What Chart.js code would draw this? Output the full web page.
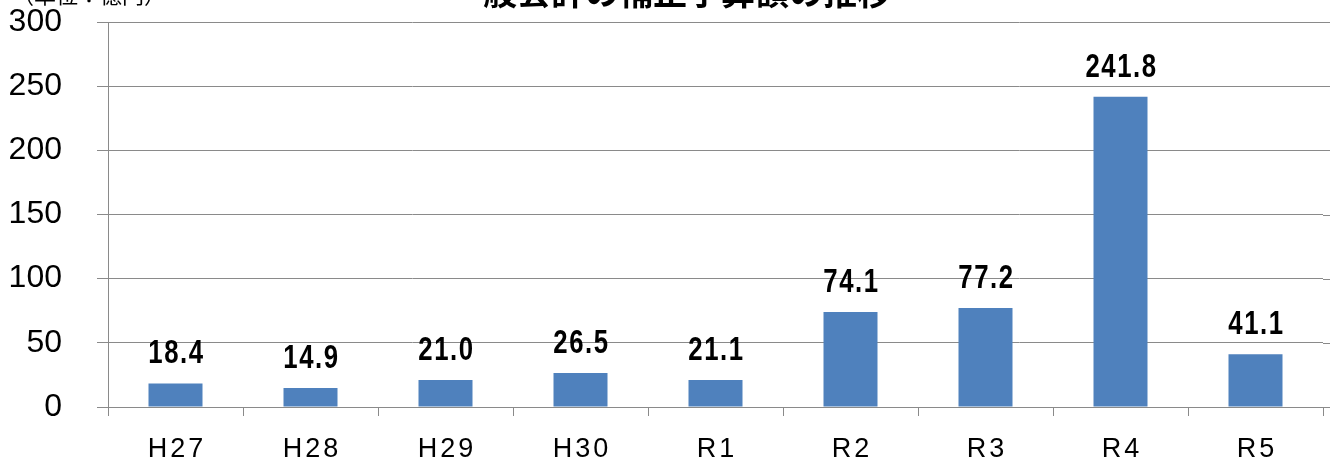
<!DOCTYPE html>
<html lang="ja">
<head>
<meta charset="utf-8">
<title>一般会計の補正予算額の推移</title>
<script src="https://cdn.jsdelivr.net/npm/chart.js@4.4.1/dist/chart.umd.min.js"></script>
<style>
  html, body { margin: 0; padding: 0; background: #ffffff; }
  #wrap { width: 1330px; height: 460px; position: relative; }
</style>
</head>
<body>
<div id="wrap"><canvas id="c" width="1330" height="460"></canvas></div>
<script>
// 年度ラベルと補正予算額（単位：億円）
const categories = ['H27', 'H28', 'H29', 'H30', 'R1', 'R2', 'R3', 'R4', 'R5'];
const amounts = [18.4, 14.9, 21.0, 26.5, 21.1, 74.1, 77.2, 241.8, 41.1];
const yTicks = [0, 50, 100, 150, 200, 250, 300];
const titleText = '一般会計の補正予算額の推移';
const unitText = '（単位：億円）';

const GRID = '#8a8a8a';

// 見出し・単位・年度ラベル・数値ラベルを描くプラグイン
const decorations = {
  id: 'decorations',
  beforeDraw(chart) {
    const ctx = chart.ctx;
    const area = chart.chartArea;
    const y = chart.scales.y;
    // 目盛線を右端まで延ばす
    ctx.save();
    ctx.strokeStyle = GRID;
    ctx.lineWidth = 1;
    yTicks.forEach(v => {
      const py = Math.round(y.getPixelForValue(v)) + 0.5;
      ctx.beginPath();
      ctx.moveTo(area.right, py);
      ctx.lineTo(chart.width, py);
      ctx.stroke();
    });
    ctx.restore();
  },
  afterDraw(chart) {
    const ctx = chart.ctx;
    const x = chart.scales.x;
    ctx.save();
    // 見出し
    ctx.fillStyle = '#000000';
    ctx.font = 'bold 34px "Noto Sans CJK JP", sans-serif';
    ctx.textAlign = 'center';
    ctx.textBaseline = 'ideographic';
    ctx.fillText(titleText, 670, 9);
    // 単位
    ctx.font = '22px "Noto Sans CJK JP", sans-serif';
    ctx.textAlign = 'left';
    ctx.fillText(unitText, 12, 6);
    // 年度ラベル
    ctx.font = '27px "Liberation Sans", Arial, sans-serif';
    ctx.textAlign = 'center';
    ctx.textBaseline = 'alphabetic';
    ctx.letterSpacing = '3px';
    categories.forEach((label, i) => {
      ctx.fillText(label, x.getPixelForValue(i) + 1.5, 457);
    });
    ctx.restore();
  },
  afterDatasetsDraw(chart) {
    const ctx = chart.ctx;
    const meta = chart.getDatasetMeta(0);
    ctx.fillStyle = '#000000';
    ctx.font = 'bold 33px "Liberation Sans", Arial, sans-serif';
    ctx.textAlign = 'center';
    ctx.textBaseline = 'alphabetic';
    meta.data.forEach((bar, i) => {
      // 幅を詰めた数値ラベル
      ctx.save();
      ctx.letterSpacing = '2px';
      ctx.translate(bar.x + 1, bar.y - 20);
      ctx.scale(0.78, 1);
      ctx.fillText(amounts[i].toFixed(1), 0, 0);
      ctx.restore();
    });
  }
};

new Chart(document.getElementById('c'), {
  type: 'bar',
  data: {
    labels: categories,
    datasets: [{
      data: amounts,
      backgroundColor: '#4f81bd',
      borderWidth: 0,
      barPercentage: 0.4,
      categoryPercentage: 1.0
    }]
  },
  options: {
    responsive: false,
    animation: false,
    devicePixelRatio: 1,
    layout: { padding: { top: 22, right: 7, left: 0, bottom: 0 } },
    plugins: {
      legend: { display: false },
      title: { display: false },
      tooltip: { enabled: false }
    },
    scales: {
      x: {
        afterFit(scale) {
          scale.height = 53;
          scale.paddingLeft = 0;
          scale.paddingRight = 0;
        },
        grid: {
          display: true,
          offset: true,
          drawOnChartArea: false,
          drawTicks: true,
          tickLength: 9,
          color: GRID
        },
        border: { display: true, color: GRID, width: 1 },
        ticks: { display: false }
      },
      y: {
        min: 0,
        max: 300,
        afterFit(scale) {
          scale.width = 108;
          scale.paddingTop = 0;
          scale.paddingBottom = 0;
        },
        afterBuildTicks(scale) { scale.ticks = yTicks.map(v => ({ value: v })); },
        grid: {
          color: GRID,
          lineWidth: 1,
          drawTicks: true,
          tickLength: 11
        },
        border: { display: true, color: GRID, width: 1 },
        ticks: {
          color: '#000000',
          padding: 35,
          font: { family: '"Liberation Sans", Arial, sans-serif', size: 32 },
          callback: v => String(v)
        }
      }
    }
  },
  plugins: [decorations]
});
</script>
</body>
</html>
